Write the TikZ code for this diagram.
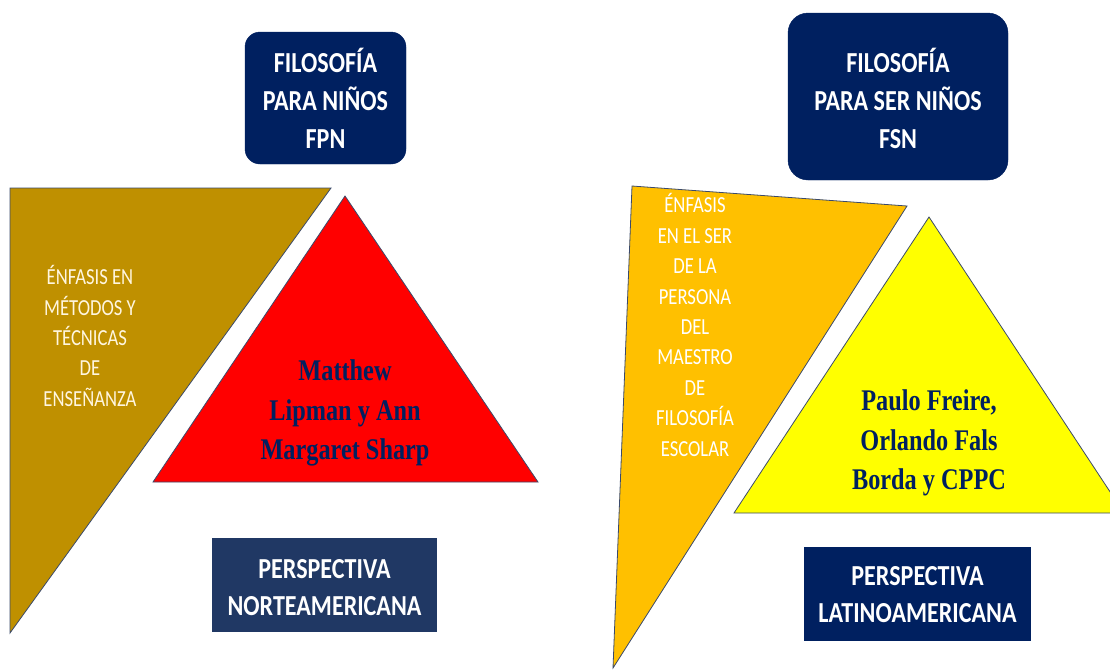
\documentclass[tikz,border=0pt]{standalone}
\usepackage{fontspec}
\newfontfamily\calfont{Carlito}[FakeStretch=0.83]
\newfontfamily\calemfont{Carlito}[FakeStretch=0.81]
\newfontfamily\tmsfont{Liberation Serif}[FakeStretch=0.81]
\definecolor{brownfill}{HTML}{BF9000}
\definecolor{redfill}{HTML}{FF0000}
\definecolor{orangefill}{HTML}{FFC000}
\definecolor{yellowfill}{HTML}{FFFF00}
\definecolor{navy}{HTML}{002060}
\definecolor{slate}{HTML}{203864}
\definecolor{edge}{HTML}{3B4A6B}
\definecolor{cream}{HTML}{FFF6E0}
\begin{document}
\begin{tikzpicture}[x=1pt,y=-1pt,
  tri/.style={draw=edge,line width=0.8pt,line join=miter},
  title/.style={text=white,font=\calfont\bfseries\fontsize{29}{38}\selectfont,align=center},
  persp/.style={text=white,font=\calfont\bfseries\fontsize{29}{37}\selectfont,align=center},
  emph/.style={font=\calemfont\fontsize{23}{30.4}\selectfont,align=center},
  names/.style={text=navy,font=\tmsfont\bfseries\fontsize{30}{39.5}\selectfont,align=center}]
\useasboundingbox (0,0) rectangle (1110,670);
\clip (0,0) rectangle (1110,670);
% left group
\fill[white] (0,0) rectangle (1110,670);
\filldraw[tri,fill=brownfill] (10,188) -- (331,188) -- (10,633) -- cycle;
\filldraw[tri,fill=redfill] (345,196) -- (538,482) -- (153,482) -- cycle;
\filldraw[navy,rounded corners=15pt] (245,32) rectangle (406,164);
\fill[slate] (212,538) rectangle (437,632);
\node[title] (fpn) at (325.5,98) {FILOSOFÍA\\PARA NIÑOS\\FPN};
\node[emph,text=cream] (enf1) at (90,336) {ÉNFASIS EN\\MÉTODOS Y\\TÉCNICAS\\DE\\ENSEÑANZA};
\node[names] (lip) at (345,413) {Matthew\\Lipman y Ann\\Margaret Sharp};
\node[persp] (norte) at (324.5,588) {PERSPECTIVA\\NORTEAMERICANA};
% right group
\filldraw[tri,fill=orangefill] (632,186) -- (907,206) -- (613,668) -- cycle;
\filldraw[tri,fill=yellowfill] (929,217) -- (1124,513) -- (734,513) -- cycle;
\filldraw[navy,rounded corners=20pt] (788,13) rectangle (1008,180);
\fill[navy] (804,547) rectangle (1031,641);
\node[title] (fsn) at (898,98) {FILOSOFÍA\\PARA SER NIÑOS\\FSN};
\node[emph,text=white] (enf2) at (695,325) {ÉNFASIS\\EN EL SER\\DE LA\\PERSONA\\DEL\\MAESTRO\\DE\\FILOSOFÍA\\ESCOLAR};
\node[names] (fre) at (929,443) {Paulo Freire,\\Orlando Fals\\Borda y CPPC};
\node[persp] (latino) at (917.5,595) {PERSPECTIVA\\LATINOAMERICANA};
\end{tikzpicture}
\end{document}
